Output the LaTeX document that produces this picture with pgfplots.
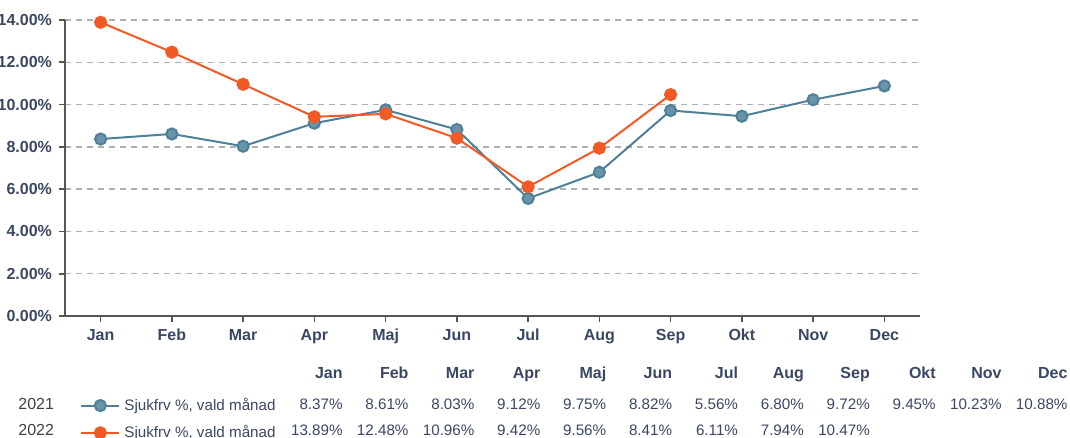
\documentclass[border=0pt]{standalone}
\usepackage{pgfplots}
\pgfplotsset{compat=1.18}
\usepackage{fontspec}
\setmainfont{Liberation Sans}
\definecolor{txt}{HTML}{3A4763}
\definecolor{s21}{HTML}{4E8099}
\definecolor{s22}{HTML}{F15A24}
\definecolor{grd}{HTML}{B0B0B0}
\definecolor{axl}{HTML}{555555}
\begin{document}
\begin{tikzpicture}[font=\fontsize{8}{9.6}\selectfont]
\useasboundingbox (0,0) rectangle (535pt,219pt);
\begin{axis}[
  at={(32.5pt,61pt)}, anchor=south west,
  scale only axis, width=427.5pt, height=148pt,
  xmin=-0.5, xmax=11.5, ymin=0, ymax=14,
  axis lines=left, axis line style={draw=axl, line width=1pt, -},
  xtick={0,...,11},
  xticklabels={Jan,Feb,Mar,Apr,Maj,Jun,Jul,Aug,Sep,Okt,Nov,Dec},
  ytick={0,2,...,14},
  yticklabels={0.00\%,2.00\%,4.00\%,6.00\%,8.00\%,10.00\%,12.00\%,14.00\%},
  ymajorgrids, grid style={dash pattern=on 3pt off 2.5pt, grd, line width=0.7pt},
  tick style={draw=axl, line width=0.8pt},
  major tick length=3pt, tick align=outside,
  tick label style={font=\fontsize{8}{9.6}\selectfont\bfseries, text=txt},
  clip=false,
  legend style={at={(0.0175,-0.262)}, anchor=north west, draw=none, fill=none,
    inner sep=0pt, row sep=2pt, font=\fontsize{7.6}{9}\selectfont, text=txt,
    cells={anchor=west}},
  legend image code/.code={\draw[mark repeat=2,mark phase=2,#1] plot coordinates {(0pt,0pt)(9.5pt,0pt)(19pt,0pt)};},
]
\addplot[s21, line width=1pt, mark=*, mark size=2.8pt, mark options={fill=s21!85!white, draw=s21}]
  coordinates {(0,8.37)(1,8.61)(2,8.03)(3,9.12)(4,9.75)(5,8.82)(6,5.56)(7,6.80)(8,9.72)(9,9.45)(10,10.23)(11,10.88)};
\addlegendentry{Sjukfrv \%, vald månad}
\addplot[s22, line width=1pt, mark=*, mark size=2.8pt, mark options={fill=s22, draw=s22}]
  coordinates {(0,13.89)(1,12.48)(2,10.96)(3,9.42)(4,9.56)(5,8.41)(6,6.11)(7,7.94)(8,10.47)};
\addlegendentry{Sjukfrv \%, vald månad}
\end{axis}
% data table below the chart
\foreach \m [count=\i from 0] in {Jan,Feb,Mar,Apr,Maj,Jun,Jul,Aug,Sep,Okt,Nov,Dec}
  \node[anchor=base east, inner sep=0pt, text=txt, font=\fontsize{8}{9.6}\selectfont\bfseries] at ({171.5pt+32.95pt*\i},29.5pt) {\m};
\foreach \v [count=\i from 0] in {8.37,8.61,8.03,9.12,9.75,8.82,5.56,6.80,9.72,9.45,10.23,10.88}
  \node[anchor=base east, inner sep=0pt, text=txt, font=\fontsize{7.6}{9}\selectfont] at ({171.5pt+32.95pt*\i},14pt) {\v\%};
\foreach \v [count=\i from 0] in {13.89,12.48,10.96,9.42,9.56,8.41,6.11,7.94,10.47}
  \node[anchor=base east, inner sep=0pt, text=txt, font=\fontsize{7.6}{9}\selectfont] at ({171.5pt+32.95pt*\i},1pt) {\v\%};
\node[anchor=base west, inner sep=0pt, text=black!75] at (9pt,14pt) {2021};
\node[anchor=base west, inner sep=0pt, text=black!75] at (9pt,1pt) {2022};
\end{tikzpicture}
\end{document}
